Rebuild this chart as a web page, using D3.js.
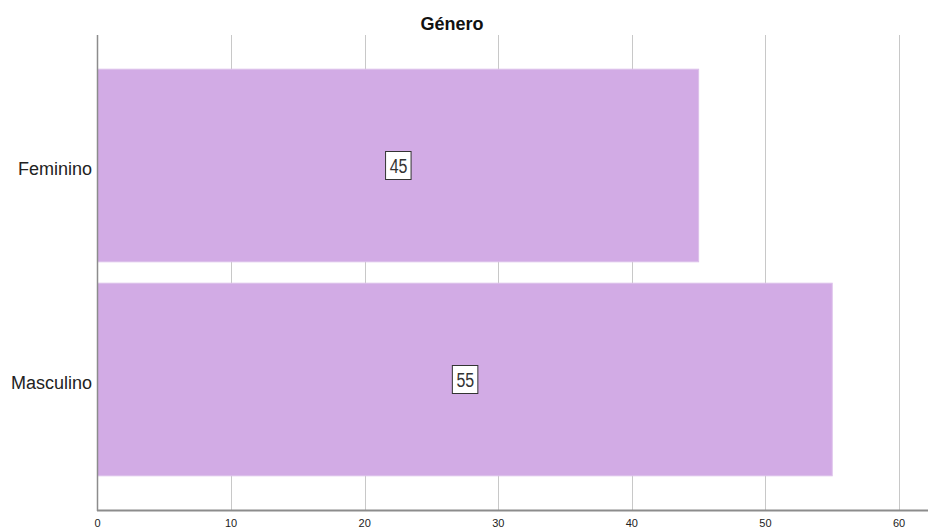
<!DOCTYPE html>
<html>
<head>
<meta charset="utf-8">
<script src="https://cdn.jsdelivr.net/npm/d3@7"></script>
<style>
  body { margin: 0; background: #fff; }
  svg { display: block; font-family: "Liberation Sans", Arial, sans-serif; }
</style>
</head>
<body>
<svg id="chart" width="928" height="528"></svg>
<script>
// Gender distribution (counts)
const categories = ["Feminino", "Masculino"];
const values = [45, 55];
const xTicks = [0, 10, 20, 30, 40, 50, 60];
const title = "Género";

const svg = d3.select("#chart");
const plotTop = 35, plotBottom = 510;

const x = d3.scaleLinear().domain([0, 60]).range([97.5, 899]);
const y = d3.scaleBand().domain(categories).range([58.5, 486.5])
  .paddingInner(0.1).paddingOuter(0.05);

// vertical gridlines
svg.append("g").selectAll("line").data(xTicks.slice(1)).join("line")
  .attr("x1", d => Math.round(x(d)) + 0.5).attr("x2", d => Math.round(x(d)) + 0.5)
  .attr("y1", plotTop).attr("y2", plotBottom)
  .attr("stroke", "#c8c8c8").attr("stroke-width", 1);

// bars
svg.append("g").selectAll("rect").data(categories).join("rect")
  .attr("x", x(0))
  .attr("y", d => y(d))
  .attr("width", (d, i) => x(values[i]) - x(0))
  .attr("height", y.bandwidth())
  .attr("fill", "#d2abe5")
  .attr("stroke", "#dcc0ea").attr("stroke-width", 1);

// axes lines
svg.append("line").attr("x1", 97.5).attr("x2", 97.5).attr("y1", plotTop).attr("y2", plotBottom + 1)
  .attr("stroke", "#8c8c8c").attr("stroke-width", 1.5);
svg.append("line").attr("x1", 97).attr("x2", 928).attr("y1", plotBottom + 0.5).attr("y2", plotBottom + 0.5)
  .attr("stroke", "#8c8c8c").attr("stroke-width", 2);

// x tick labels
svg.append("g").selectAll("text").data(xTicks).join("text")
  .attr("x", d => x(d)).attr("y", 526.5)
  .attr("text-anchor", "middle")
  .attr("font-size", 11)
  .attr("fill", "#222")
  .text(d => d);

// category labels
svg.append("g").selectAll("text").data(categories).join("text")
  .attr("x", 92).attr("y", d => y(d) + y.bandwidth() / 2 + 9)
  .attr("text-anchor", "end")
  .attr("font-size", 18)
  .attr("fill", "#222")
  .text(d => d);

// value labels in boxes
const lbl = svg.append("g").selectAll("g").data(categories).join("g")
  .attr("transform", (d, i) => `translate(${(x(0) + x(values[i])) / 2},${y(d) + y.bandwidth() / 2})`);
lbl.append("rect")
  .attr("x", -12.5).attr("y", -14).attr("width", 25.5).attr("height", 28)
  .attr("fill", "#fff").attr("stroke", "#333").attr("stroke-width", 1);
lbl.append("text")
  .attr("text-anchor", "middle")
  .attr("transform", "translate(0.5,7.5) scale(1,1.32)")
  .attr("font-size", 16).attr("fill", "#333")
  .text((d, i) => values[i]);

// title
svg.append("text").attr("x", 452).attr("y", 30)
  .attr("text-anchor", "middle").attr("font-size", 18).attr("font-weight", "bold")
  .attr("fill", "#111").text(title);
</script>
</body>
</html>
